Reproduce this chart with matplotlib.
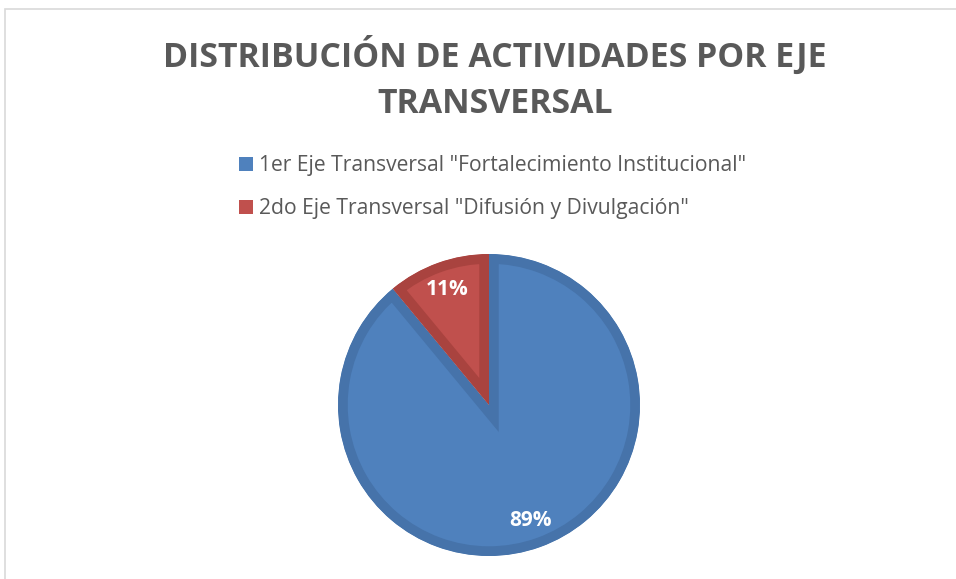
import matplotlib
matplotlib.use("Agg")
import matplotlib.pyplot as plt
from matplotlib.patches import Patch, Rectangle

labels = ['1er Eje Transversal "Fortalecimiento Institucional"',
          '2do Eje Transversal "Difusión y Divulgación"']
values = [89, 11]
fill_colors = ['#4F81BD', '#C0504D']
edge_colors = ['#4673AA', '#A9433F']

W, H = 956, 579
fig = plt.figure(figsize=(W/100, H/100), dpi=100)
fig.patch.set_facecolor('white')

# chart frame
fig.patches.append(Rectangle((5/W, -0.1), 1.2, (H-9)/H + 0.1, transform=fig.transFigure,
                             fill=False, edgecolor='#D9D9D9', linewidth=1.2))

cx, cy, r = 489, 405, 151
ax = fig.add_axes([(cx - r)/W, (H - cy - r)/H, 2*r/W, 2*r/H])
wedges, texts, autotexts = ax.pie(values, colors=fill_colors, startangle=90, counterclock=False,
                                  autopct='%1.0f%%', pctdistance=0.81,
                                  textprops=dict(color='white', fontsize=15, fontweight='bold',
                                                 family='Open Sans'))
ax.set_xlim(-1, 1)
ax.set_ylim(-1, 1)
ax.set_aspect('equal')
ax.axis('off')
for w, ec in zip(wedges, edge_colors):
    w.set_edgecolor(ec)
    w.set_linewidth(14)
    w.set_joinstyle('miter')
    w.set_clip_on(True)
    w.set_clip_path(w)

fig.text(495/W, 1 - 55/H, "DISTRIBUCIÓN DE ACTIVIDADES POR EJE", ha='center', va='center',
         fontsize=24.4, fontweight='bold', color='#595959', family='Open Sans')
fig.text(495/W, 1 - 104/H, "TRANSVERSAL", ha='center', va='center',
         fontsize=24.4, fontweight='bold', color='#595959', family='Open Sans')

handles = [Patch(facecolor=c, edgecolor='none') for c in fill_colors]
leg = fig.legend(handles, labels, loc='upper left', bbox_to_anchor=(220/W, 1 - 136/H),
                 frameon=False, handlelength=0.65, handleheight=0.65, handletextpad=0.3,
                 labelspacing=1.05, prop=dict(family='Open Sans', size=15.2))
for t in leg.get_texts():
    t.set_color('#595959')

fig.savefig('out.png', dpi=100)
